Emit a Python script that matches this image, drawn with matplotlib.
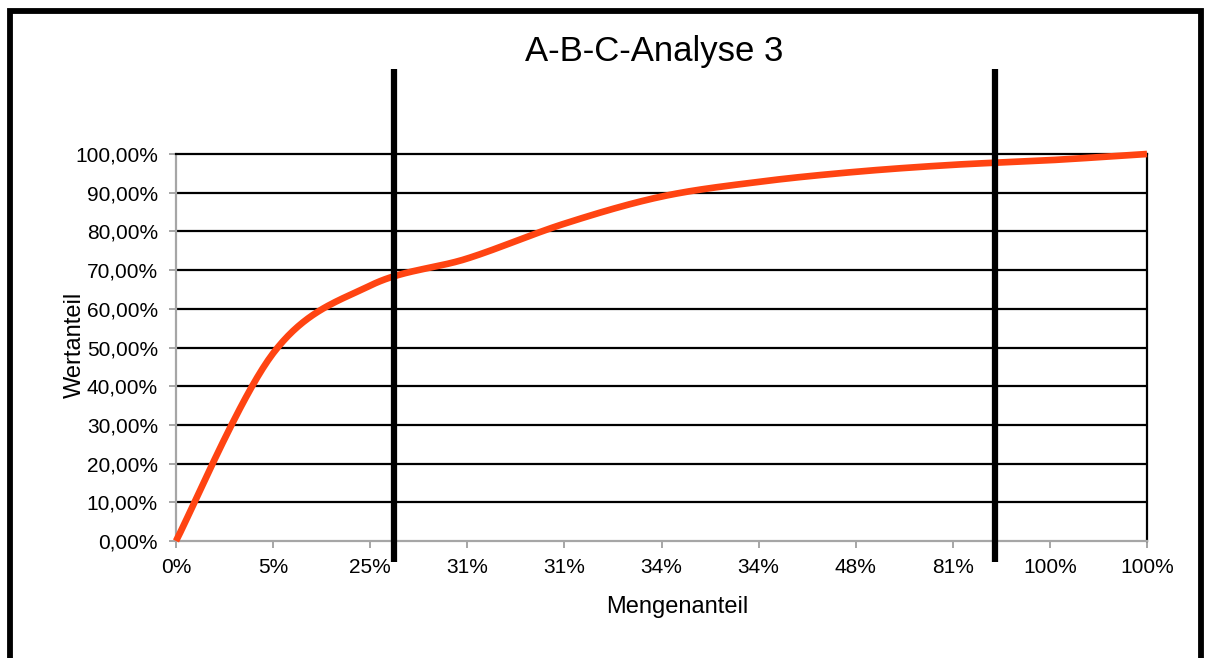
import numpy as np
import matplotlib
matplotlib.use("Agg")
import matplotlib.pyplot as plt
from matplotlib import patches, transforms

# ------------------------------------------------------------------
# Daten
# ------------------------------------------------------------------
mengenanteil = ["0%", "5%", "25%", "31%", "31%", "34%", "34%", "48%", "81%", "100%", "100%"]
wertanteil = [0.0, 0.485, 0.66, 0.73, 0.82, 0.89, 0.928, 0.954, 0.972, 0.984, 1.0]
y_ticks = [0.0, 0.1, 0.2, 0.3, 0.4, 0.5, 0.6, 0.7, 0.8, 0.9, 1.0]
# Grenzen A/B und B/C (Lage auf der Kategorieachse)
grenze_ab = 2.25
grenze_bc = 8.43

TITEL = "A-B-C-Analyse 3"
X_LABEL = "Mengenanteil"
Y_LABEL = "Wertanteil"

plt.rcParams["font.family"] = ["Liberation Sans", "DejaVu Sans"]


def glatte_kurve(xs, ys, n=40):
    """Excel-artige Glättung (Bezier mit Catmull-Rom-Tangenten)"""
    pts = np.column_stack([xs, ys]).astype(float)
    out = []
    for i in range(len(pts) - 1):
        p0 = pts[max(i - 1, 0)]
        p1 = pts[i]
        p2 = pts[i + 1]
        p3 = pts[min(i + 2, len(pts) - 1)]
        c1 = p1 + (p2 - p0) / 6.0
        c2 = p2 - (p3 - p1) / 6.0
        t = np.linspace(0, 1, n)[:, None]
        seg = ((1 - t) ** 3) * p1 + 3 * ((1 - t) ** 2) * t * c1 + 3 * (1 - t) * t ** 2 * c2 + t ** 3 * p2
        out.append(seg if i == 0 else seg[1:])
    seg = np.vstack(out)
    return seg[:, 0], seg[:, 1]


fig = plt.figure(figsize=(12.08, 6.58), dpi=100)
W, H = 1208, 658
ax = fig.add_axes([176 / W, (H - 541) / H, (1147 - 176) / W, (541 - 154) / H])

x_idx = np.arange(len(mengenanteil))
xs, ys = glatte_kurve(x_idx, wertanteil)
ax.plot(xs, ys, color="#ff4412", lw=4.8, solid_capstyle="butt", zorder=3, clip_on=False)

ax.set_xlim(0, len(mengenanteil) - 1)
ax.set_ylim(0, 1)
ax.set_xticks(x_idx)
ax.set_xticklabels(mengenanteil)
ax.set_yticks(y_ticks)
ax.set_yticklabels([f"{v * 100:.2f}%".replace(".", ",") for v in y_ticks])

for y in y_ticks[1:-1]:
    ax.axhline(y, color="black", lw=1.6, zorder=1)

for side in ["left", "bottom"]:
    ax.spines[side].set_color("#a6a6a6")
    ax.spines[side].set_linewidth(1.6)
for side in ["right", "top"]:
    ax.spines[side].set_color("black")
    ax.spines[side].set_linewidth(1.6)

ax.tick_params(axis="both", colors="#a6a6a6", length=5, width=1.4, labelcolor="black", labelsize=15)
ax.tick_params(axis="y", pad=8)
ax.tick_params(axis="x", pad=7)

# Grenzlinien (über die Zeichenfläche hinaus)
trans = transforms.blended_transform_factory(ax.transData, ax.transAxes)
for gx in [grenze_ab, grenze_bc]:
    ax.plot([gx, gx], [-0.055, 1.22], color="black", lw=4.5, transform=trans,
            clip_on=False, zorder=5, solid_capstyle="butt")

fig.text(654 / W, 1 - 52 / H, TITEL, ha="center", va="center", fontsize=25)
fig.text(677 / W, 1 - 607 / H, X_LABEL, ha="center", va="center", fontsize=17)
fig.text(75 / W, 1 - 345 / H, Y_LABEL, ha="center", va="center", fontsize=17, rotation=90)

# Rahmen um das Diagramm
rahmen = patches.Rectangle((10 / W, -0.05), (1201 - 10) / W, (H - 11) / H + 0.05,
                           transform=fig.transFigure, fill=False, edgecolor="black", lw=4.2)
fig.patches.append(rahmen)

fig.savefig("out.png", dpi=100, facecolor="white")
